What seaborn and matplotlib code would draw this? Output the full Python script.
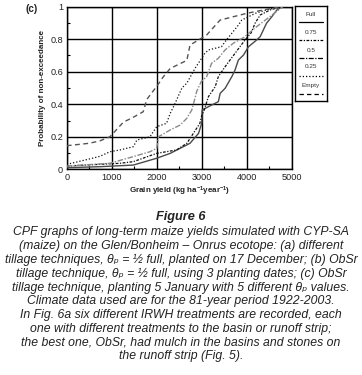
import matplotlib
matplotlib.use("Agg")
import matplotlib.pyplot as plt
import seaborn as sns
import pandas as pd
from matplotlib.lines import Line2D

sns.set_theme(style="white")
plt.rcParams['font.family'] = ['Liberation Sans', 'DejaVu Sans']
plt.rcParams['mathtext.fontset'] = 'custom'
plt.rcParams['mathtext.rm'] = 'Liberation Sans:italic'
plt.rcParams['mathtext.it'] = 'Liberation Sans:italic'
plt.rcParams['mathtext.bf'] = 'Liberation Sans:bold'

# ---- data ----
full_x = [0, 740, 1480, 2000, 2300, 2520, 2740, 2930, 3000, 3010, 3220, 3370, 3410, 3520, 3670, 3740, 3815, 3930, 4040, 4220, 4300, 4440, 4560, 4670, 4800]
full_y = [0.01, 0.016, 0.026, 0.068, 0.098, 0.129, 0.16, 0.221, 0.283, 0.365, 0.395, 0.416, 0.467, 0.498, 0.57, 0.61, 0.672, 0.703, 0.754, 0.795, 0.816, 0.898, 0.939, 0.98, 1.0]

q75_x = [0, 1185, 1480, 2000, 2440, 2670, 2815, 2960, 3000, 3050, 3150, 3300, 3370, 3520, 3630, 3740, 3960, 4100, 4185, 4300, 4520, 4780]
q75_y = [0.02, 0.037, 0.047, 0.098, 0.119, 0.16, 0.221, 0.283, 0.33, 0.36, 0.447, 0.508, 0.57, 0.631, 0.672, 0.713, 0.795, 0.84, 0.898, 0.949, 0.98, 1.0]

half_x = [0, 960, 1480, 1850, 2000, 2040, 2300, 2520, 2670, 2780, 2815, 2890, 2990, 3110, 3220, 3370, 3520, 3700, 3930, 4220, 4520, 4800]
half_y = [0.02, 0.037, 0.078, 0.108, 0.129, 0.2, 0.242, 0.272, 0.314, 0.365, 0.40, 0.48, 0.54, 0.57, 0.652, 0.683, 0.734, 0.775, 0.81, 0.877, 0.94, 1.0]

q25_x = [0, 300, 600, 740, 960, 1185, 1480, 1560, 1850, 2000, 2220, 2300, 2400, 2480, 2560, 2670, 2850, 3070, 3150, 3440, 3520, 3815, 3890, 4200, 4500, 4750]
q25_y = [0.03, 0.05, 0.07, 0.08, 0.108, 0.119, 0.139, 0.18, 0.2, 0.262, 0.283, 0.344, 0.40, 0.45, 0.50, 0.53, 0.62, 0.713, 0.734, 0.754, 0.785, 0.887, 0.918, 0.96, 0.985, 1.0]

empty_x = [0, 500, 740, 960, 1260, 1480, 1700, 1780, 2000, 2150, 2300, 2670, 2740, 3110, 3410, 4000, 4440, 4780]
empty_y = [0.145, 0.16, 0.175, 0.2, 0.29, 0.32, 0.354, 0.43, 0.51, 0.57, 0.62, 0.67, 0.764, 0.826, 0.918, 0.959, 0.984, 1.0]

labels = ["Full", "0.75", "0.5", "0.25", "Empty"]
xticks = [0, 1000, 2000, 3000, 4000, 5000]
yticks = [0, 0.2, 0.4, 0.6, 0.8, 1.0]
ytick_labels = ["0", "0.2", "0.4", "0.6", "0.8", "1"]

series = [(full_x, full_y), (q75_x, q75_y), (half_x, half_y), (q25_x, q25_y), (empty_x, empty_y)]
styles = {
    "Full": dict(color="#4a4a4a", linestyle="-", linewidth=1.0),
    "0.75": dict(color="#111111", linestyle=(0, (2.2, 1.2, 1, 1.2)), linewidth=0.9),
    "0.5": dict(color="#8a8a8a", linestyle=(0, (4, 1.2, 1, 1.2)), linewidth=1.0),
    "0.25": dict(color="#111111", linestyle=(0, (1, 1.6)), linewidth=0.9),
    "Empty": dict(color="#555555", linestyle=(0, (3.5, 2.5)), linewidth=1.0),
}

W, H = 362, 375
fig = plt.figure(figsize=(W / 100, H / 100), dpi=100)
fig.patch.set_facecolor("white")

ax = fig.add_axes([66.7 / W, 1 - 169.3 / H, 225 / W, 162.6 / H])
ax.set_facecolor("white")

for lab, (xs, ys) in zip(labels, series):
    df = pd.DataFrame({"x": xs, "y": ys})
    st = styles[lab]
    sns.lineplot(data=df, x="x", y="y", ax=ax, sort=False, estimator=None,
                 color=st["color"], linewidth=st["linewidth"], linestyle=st["linestyle"], zorder=3)

ax.set_xlim(0, 5000)
ax.set_ylim(0, 1)
ax.set_xticks(xticks)
ax.set_xticklabels([str(v) for v in xticks])
ax.set_yticks(yticks)
ax.set_yticklabels(ytick_labels)
ax.set_xticks([500, 1500, 2500, 3500, 4500], minor=True)
ax.set_yticks([0.1, 0.3, 0.5, 0.7, 0.9], minor=True)
ax.grid(True, which="major", color="black", linewidth=1.0, zorder=1)
ax.tick_params(axis="both", which="major", direction="in", length=0, labelsize=6.6, pad=2.5, colors="#222222")
ax.tick_params(axis="both", which="minor", direction="in", length=2.5, width=0.8, color="black")
ax.tick_params(axis="x", which="minor", bottom=True)
ax.tick_params(axis="y", which="minor", left=True)
for s in ax.spines.values():
    s.set_color("black")
    s.set_linewidth(1.0)
ax.set_xlabel("Grain yield (kg ha$^{\\mathbf{-1}}$year$^{\\mathbf{-1}}$)", fontsize=5.8, fontweight="bold", labelpad=2, color="#222222")
ax.set_ylabel("Probability of non-exceedance", fontsize=5.8, fontweight="bold", labelpad=3, color="#222222")

fig.text(32 / W, 1 - 8.5 / H, "(c)", fontsize=7.2, fontweight="bold", ha="center", va="center", color="#222222")

# legend box
lax = fig.add_axes([295 / W, 1 - 101 / H, 31.7 / W, 95 / H])
lax.set_xlim(0, 1)
lax.set_ylim(95, 0)
lax.set_xticks([])
lax.set_yticks([])
for s in lax.spines.values():
    s.set_color("black")
    s.set_linewidth(1.0)
text_y = [8, 26, 44, 61, 80]
line_y = [16, 34, 52, 70, 88]
for lab, ty, ly in zip(labels, text_y, line_y):
    lax.text(0.5, ty, lab, fontsize=4.6, ha="center", va="center", color="#333333")
    st = styles[lab]
    lax.add_line(Line2D([0.12, 0.88], [ly, ly], color="black", linewidth=0.9, linestyle=st["linestyle"]))

# caption
fig.text(0.5, 1 - 217.5 / H, "Figure 6", fontsize=9.2, style="italic", fontweight="bold",
         ha="center", va="center", color="#222222")
cap = [
    "CPF graphs of long-term maize yields simulated with CYP-SA",
    "(maize) on the Glen/Bonheim \u2013 Onrus ecotope: (a) different",
    "tillage techniques, \u03b8\u209a = \u00bd full, planted on 17 December; (b) ObSr",
    "tillage technique, \u03b8\u209a = \u00bd full, using 3 planting dates; (c) ObSr",
    "tillage technique, planting 5 January with 5 different \u03b8\u209a values.",
    "Climate data used are for the 81-year period 1922-2003.",
    "In Fig. 6a six different IRWH treatments are recorded, each",
    "one with different treatments to the basin or runoff strip;",
    "the best one, ObSr, had mulch in the basins and stones on",
    "the runoff strip (Fig. 5).",
]
for i, line in enumerate(cap):
    y = 235.5 + i * 13.75
    fig.text(0.5, 1 - y / H, line, fontsize=8.8, style="italic", ha="center", va="baseline",
             color="#222222", family=['Liberation Sans', 'DejaVu Sans'])

fig.savefig("out.png", dpi=100, facecolor="white")
